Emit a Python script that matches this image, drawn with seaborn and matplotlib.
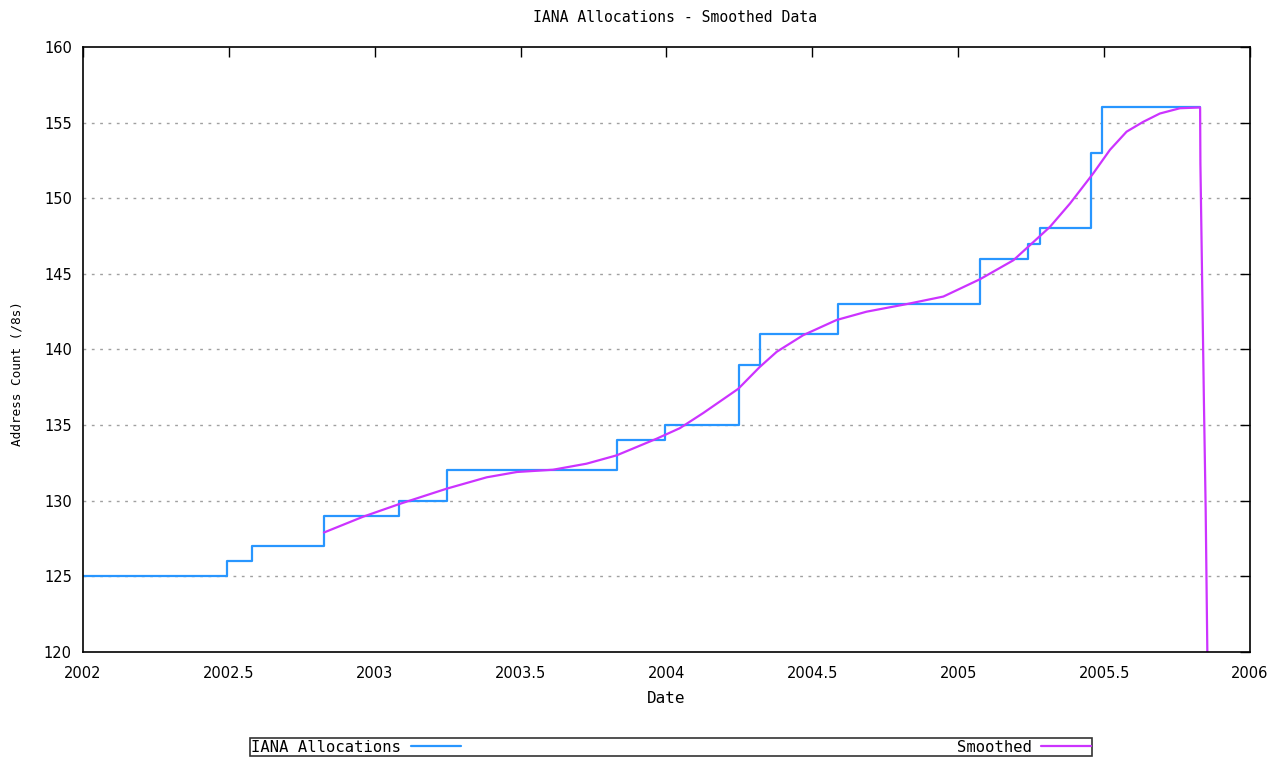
import matplotlib
matplotlib.use("Agg")
import matplotlib.pyplot as plt
import seaborn as sns

# IANA /8 allocations (step data)
step_dates = [2002.0, 2002.494, 2002.58, 2002.826, 2003.083, 2003.248, 2003.83,
              2003.996, 2004.248, 2004.32, 2004.588, 2005.074, 2005.238, 2005.279,
              2005.455, 2005.493, 2005.829]
step_counts = [125, 126, 127, 129, 130, 132, 134, 135, 139, 141, 143, 146, 147,
               148, 153, 156, 156]

# smoothed curve
smooth_dates = [2002.826, 2002.961, 2003.087, 2003.247, 2003.384, 2003.487, 2003.611,
                2003.726, 2003.829, 2003.966, 2004.046, 2004.126, 2004.246, 2004.320,
                2004.378, 2004.469, 2004.583, 2004.686, 2004.823, 2004.949, 2005.075,
                2005.189, 2005.246, 2005.314, 2005.383, 2005.463, 2005.520, 2005.577,
                2005.634, 2005.691, 2005.760, 2005.829,
                2005.830, 2005.836, 2005.842, 2005.848, 2005.855]
smooth_counts = [127.9, 128.95, 129.8, 130.8, 131.55, 131.9, 132.05,
                 132.45, 133.0, 134.1, 134.8, 135.8, 137.4, 138.85,
                 139.85, 140.95, 141.95, 142.5, 143.0, 143.5, 144.65,
                 145.9, 146.9, 148.1, 149.65, 151.65, 153.2, 154.4,
                 155.05, 155.6, 155.95, 156.0,
                 152.3, 144.5, 136.6, 129.5, 118.0]

x_ticks = [2002, 2002.5, 2003, 2003.5, 2004, 2004.5, 2005, 2005.5, 2006]
x_labels = ["2002", "2002.5", "2003", "2003.5", "2004", "2004.5", "2005", "2005.5", "2006"]
y_ticks = [120, 125, 130, 135, 140, 145, 150, 155, 160]

sns.set_style("white")
plt.rcParams["font.family"] = ["DejaVu Sans Mono", "DejaVu Sans"]
plt.rcParams["text.color"] = "black"
plt.rcParams["axes.labelcolor"] = "black"

fig = plt.figure(figsize=(12.88, 7.6), dpi=100)
ax = fig.add_axes([0.0644, 0.1421, 0.9061, 0.7961])

sns.lineplot(x=step_dates, y=step_counts, ax=ax, color="#2896ff", lw=1.6,
             drawstyle="steps-post", estimator=None, label="IANA Allocations")
sns.lineplot(x=smooth_dates, y=smooth_counts, ax=ax, color="#cc33ff", lw=1.6,
             estimator=None, sort=False, label="Smoothed")

ax.set_xlim(2002, 2006)
ax.set_ylim(120, 160)
ax.set_xticks(x_ticks)
ax.set_xticklabels(x_labels, family="DejaVu Sans")
ax.set_yticks(y_ticks)
ax.set_yticklabels([str(v) for v in y_ticks], family="DejaVu Sans")
for v in y_ticks[1:-1]:
    ax.axhline(v, color="#a0a0a0", lw=1, ls=(0, (2, 4)), zorder=0)
ax.tick_params(direction="in", length=7, width=1, top=True, right=True,
               labelsize=10.5, colors="black")
ax.tick_params(axis="x", pad=10)
ax.tick_params(axis="y", pad=8)
for s in ax.spines.values():
    s.set_visible(True)
    s.set_color("black")
    s.set_linewidth(1.2)

ax.set_xlabel("Date", fontsize=11.5, labelpad=7)
ax.set_ylabel("Address Count (/8s)", fontsize=9.2)
ax.yaxis.set_label_coords(-0.051, 0.46)
ax.set_title("IANA Allocations - Smoothed Data", fontsize=10.6, pad=18, x=0.5077)

handles, labels = ax.get_legend_handles_labels()
ax.get_legend().remove()
leg = fig.legend(handles, labels, loc="lower left", ncol=2, mode="expand",
                 bbox_to_anchor=(0.194, 0.005, 0.654, 0.03), borderaxespad=0,
                 markerfirst=False, frameon=True, fancybox=False, edgecolor="black",
                 fontsize=11.2, handlelength=3.2, borderpad=0.1, handletextpad=0.6)
leg.get_frame().set_linewidth(1.2)

fig.savefig("out.png", dpi=100)
